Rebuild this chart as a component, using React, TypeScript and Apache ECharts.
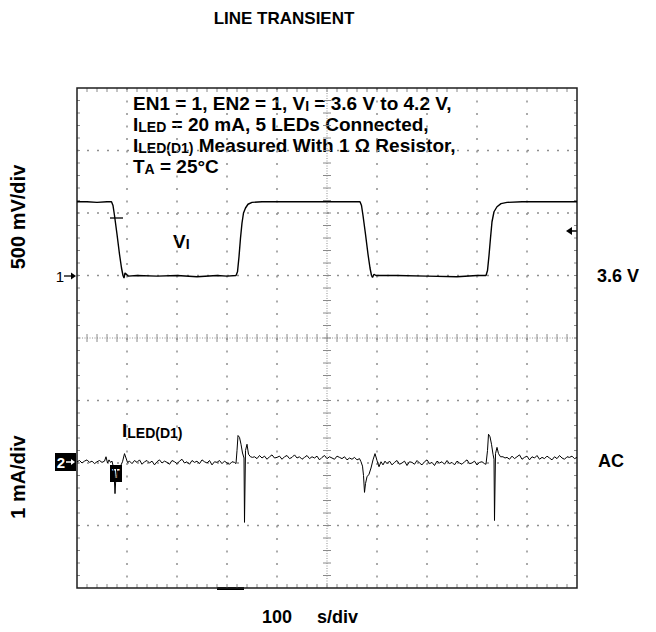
import React, { useEffect, useRef } from "react";
import * as echarts from "echarts";

const FONT = "'Liberation Sans', Arial, Helvetica, sans-serif";

// Oscilloscope scales
const TIME_TICKS_US = [0, 100, 200, 300, 400, 500, 600, 700, 800, 900, 1000]; // 100 µs/div
const DIV_TICKS = [-4, -3, -2, -1, 0, 1, 2, 3, 4]; // 8 vertical divisions
const VOLT_RANGE = [1.1, 5.1]; // 500 mV/div, 3.6 V reference at +1 div
const CURRENT_RANGE_MA = [-2, 6]; // 1 mA/div, AC zero at -2 div

// V_I trace [time µs, volts]
const VI_TRACE: [number, number][] = [
  [0, 4.19], [20, 4.19], [40, 4.185], [60, 4.19], [69, 4.19], [72, 4.16], [75, 4.08], [80, 3.93],
  [85, 3.77], [89, 3.66], [92, 3.6], [94, 3.58], [96, 3.62], [99, 3.61], [102, 3.595], [120, 3.6],
  [160, 3.595], [200, 3.6], [240, 3.59], [280, 3.6], [300, 3.595], [318, 3.6],
  [321, 3.63], [324, 3.75], [327, 3.9], [330, 4.02], [333, 4.1], [337, 4.14], [342, 4.17], [350, 4.185],
  [370, 4.19], [420, 4.19], [480, 4.19], [540, 4.19], [566, 4.19],
  [569, 4.16], [572, 4.08], [577, 3.93], [582, 3.77], [586, 3.66], [589, 3.6], [591, 3.585], [594, 3.61],
  [598, 3.6], [640, 3.6], [700, 3.595], [760, 3.59], [800, 3.6], [818, 3.6],
  [821, 3.64], [824, 3.76], [827, 3.9], [830, 4.03], [834, 4.11], [840, 4.15], [848, 4.175], [860, 4.185],
  [890, 4.19], [950, 4.19], [1000, 4.19],
];

// I_LED(D1) trace (AC coupled, mA): baseline records sampled every 5 µs
const ILED_STEP_US = 5;
const ILED_SEG1_START = 0;
const ILED_SEG1 = [0.02, 0.04, 0.0, 0.03, 0.05, 0.01, 0.03, -0.01, 0.02, 0.04, 0.01, 0.03];
const ILED_SEG2_START = 105;
const ILED_SEG2 = [
  0.03, -0.01, 0.04, 0.01, 0.05, -0.02, 0.02, 0.04, 0.0, 0.03,
  -0.03, 0.02, 0.05, 0.0, 0.03, 0.01, -0.02, 0.04, 0.02, -0.01,
  0.03, 0.06, 0.0, 0.02, -0.02, 0.04, 0.01, 0.03, -0.01, 0.05,
  0.02, 0.0, 0.04, -0.03, 0.02, 0.01, 0.04, -0.01, 0.03, 0.0,
  -0.02, 0.02, 0.01,
];
const ILED_SEG3_START = 355;
const ILED_SEG3 = [
  0.1, 0.07, 0.12, 0.08, 0.11, 0.06, 0.1, 0.13, 0.08, 0.09,
  0.11, 0.06, 0.1, 0.12, 0.07, 0.09, 0.13, 0.08, 0.1, 0.06,
  0.09, 0.12, 0.07, 0.1, 0.08, 0.11, 0.05, 0.09, 0.12, 0.07,
  0.1, 0.08, 0.06, 0.11, 0.09, 0.07, 0.1, 0.05, 0.08, 0.06,
  0.09, 0.05, 0.07,
];
const ILED_SEG4_START = 620;
const ILED_SEG4 = [
  -0.01, 0.03, -0.03, 0.01, 0.04, -0.02, 0.0, 0.03, -0.04, 0.02,
  0.01, -0.02, 0.04, 0.0, -0.03, 0.02, 0.05, -0.01, 0.01, -0.04,
  0.03, 0.0, 0.02, -0.02, 0.04, -0.01, 0.01, -0.03, 0.03, 0.0,
  -0.02, 0.02, 0.05, -0.01, 0.0, 0.03, -0.03, 0.01, 0.02, -0.01,
];
const ILED_SEG5_START = 860;
const ILED_SEG5 = [
  0.09, 0.06, 0.11, 0.07, 0.1, 0.13, 0.06, 0.09, 0.11, 0.05,
  0.1, 0.08, 0.12, 0.06, 0.09, 0.07, 0.11, 0.08, 0.05, 0.1,
  0.07, 0.12, 0.08, 0.06, 0.1, 0.09, 0.11, 0.07, 0.09,
];
// transients around the supply edges [time µs, mA]
const ILED_EDGE1: [number, number][] = [
  [58, 0.1], [61, 0.0], [64, 0.05], [67, 0.01], [70, 0.03], [72, -0.04], [74, -0.14], [76, -0.49],
  [78, -0.2], [80, -0.04], [83, -0.07], [87, -0.05], [91, 0.02], [95, 0.15], [98, 0.08], [101, 0.01],
];
const ILED_EDGE2: [number, number][] = [
  [318, -0.01], [320, 0.2], [322, 0.44], [325, 0.41], [328, 0.3], [331, 0.16], [334, 0.08],
  [335, -0.95], [337, 0.2], [340, 0.3], [343, 0.14], [347, 0.1], [351, 0.09],
];
const ILED_EDGE3: [number, number][] = [
  [568, 0.02], [571, -0.05], [573, -0.2], [575, -0.47], [577, -0.33], [580, -0.22], [584, -0.18],
  [588, -0.08], [592, 0.05], [596, 0.15], [600, 0.04], [604, -0.06], [608, 0.02], [612, -0.03], [616, 0.03],
];
const ILED_EDGE4: [number, number][] = [
  [818, -0.02], [821, 0.2], [823, 0.46], [826, 0.42], [829, 0.3], [832, 0.14], [834, 0.06],
  [835, -0.92], [837, 0.15], [840, 0.25], [843, 0.15], [847, 0.1], [852, 0.1], [856, 0.08],
];

function segment(start: number, values: number[]): [number, number][] {
  return values.map((v, i) => [start + i * ILED_STEP_US, v] as [number, number]);
}

const ILED_TRACE: [number, number][] = [
  ...segment(ILED_SEG1_START, ILED_SEG1),
  ...ILED_EDGE1,
  ...segment(ILED_SEG2_START, ILED_SEG2),
  ...ILED_EDGE2,
  ...segment(ILED_SEG3_START, ILED_SEG3),
  ...ILED_EDGE3,
  ...segment(ILED_SEG4_START, ILED_SEG4),
  ...ILED_EDGE4,
  ...segment(ILED_SEG5_START, ILED_SEG5),
].sort((a, b) => a[0] - b[0]);

const GRID_GREY = "#8f8f8f";
const TICK_GREY = "#8a8a8a";
const FRAME = "#1e1e1e";

function graticule(params: any, api: any) {
  const children: any[] = [];
  const c = (t: number, d: number) => api.coord([t, d]);
  const line = (a: number[], b: number[], style: any) =>
    children.push({ type: "line", shape: { x1: a[0], y1: a[1], x2: b[0], y2: b[1] }, style });
  const tMin = TIME_TICKS_US[0];
  const tMax = TIME_TICKS_US[TIME_TICKS_US.length - 1];
  const dMin = DIV_TICKS[0];
  const dMax = DIV_TICKS[DIV_TICKS.length - 1];
  const tMid = (tMin + tMax) / 2;
  // dotted major lines
  TIME_TICKS_US.forEach((t) => {
    if (t === tMin || t === tMax || t === tMid) return;
    line(c(t, dMax), c(t, dMin), { stroke: GRID_GREY, lineWidth: 1.5, lineDash: [2, 10.5] });
  });
  DIV_TICKS.forEach((d) => {
    if (d === dMin || d === dMax || d === 0) return;
    line(c(tMin, d), c(tMax, d), { stroke: GRID_GREY, lineWidth: 1.5, lineDash: [2, 8] });
  });
  // center cross, dense dotted with minor ticks
  line(c(tMid, dMax), c(tMid, dMin), { stroke: GRID_GREY, lineWidth: 1, lineDash: [1, 1.5] });
  line(c(tMin, 0), c(tMax, 0), { stroke: GRID_GREY, lineWidth: 1, lineDash: [1, 1.5] });
  const minorT = (TIME_TICKS_US[1] - TIME_TICKS_US[0]) / 5;
  const minorD = (DIV_TICKS[1] - DIV_TICKS[0]) / 5;
  for (let t = tMin + minorT; t < tMax - 1e-6; t += minorT) {
    const p = c(t, 0);
    line([p[0], p[1] - 4], [p[0], p[1] + 4], { stroke: TICK_GREY, lineWidth: 1 });
    const pt = c(t, dMax);
    const pb = c(t, dMin);
    line([pt[0], pt[1]], [pt[0], pt[1] + 4], { stroke: TICK_GREY, lineWidth: 1 });
    line([pb[0], pb[1]], [pb[0], pb[1] - 4], { stroke: TICK_GREY, lineWidth: 1 });
  }
  for (let d = dMin + minorD; d < dMax - 1e-6; d += minorD) {
    const p = c(tMid, d);
    line([p[0] - 4, p[1]], [p[0] + 4, p[1]], { stroke: TICK_GREY, lineWidth: 1 });
    const pl = c(tMin, d);
    const pr = c(tMax, d);
    line([pl[0], pl[1]], [pl[0] + 3, pl[1]], { stroke: TICK_GREY, lineWidth: 1 });
    line([pr[0], pr[1]], [pr[0] - 3, pr[1]], { stroke: TICK_GREY, lineWidth: 1 });
  }
  // frame
  const tl = c(tMin, dMax);
  const br = c(tMax, dMin);
  children.push({
    type: "rect",
    shape: { x: tl[0], y: tl[1], width: br[0] - tl[0], height: br[1] - tl[1] },
    style: { fill: "none", stroke: FRAME, lineWidth: 1.5 },
  });
  return { type: "group", children };
}

const bold = (size: number) => ({ fontFamily: FONT, fontWeight: "bold" as const, fontSize: size, fill: "#000" });
const RICH = {
  b: { fontFamily: FONT, fontWeight: "bold", fontSize: 19, lineHeight: 20, color: "#000" },
  s: { fontFamily: FONT, fontWeight: "bold", fontSize: 14, lineHeight: 8, verticalAlign: "bottom", color: "#000" },
};
const richText = (x: number, y: number, text: string) => ({
  type: "text",
  x,
  y,
  style: { text, rich: RICH, align: "left", verticalAlign: "middle", fill: "#000" },
});

const option: any = {
  animation: false,
  backgroundColor: "#fff",
  grid: { left: 77, top: 88, width: 500, height: 500, containLabel: false },
  xAxis: [{ type: "value", min: TIME_TICKS_US[0], max: TIME_TICKS_US[TIME_TICKS_US.length - 1], interval: 100, show: false }],
  yAxis: [
    { type: "value", min: DIV_TICKS[0], max: DIV_TICKS[DIV_TICKS.length - 1], interval: 1, show: false },
    { type: "value", min: VOLT_RANGE[0], max: VOLT_RANGE[1], show: false },
    { type: "value", min: CURRENT_RANGE_MA[0], max: CURRENT_RANGE_MA[1], show: false },
  ],
  series: [
    { type: "custom", xAxisIndex: 0, yAxisIndex: 0, silent: true, z: 1, data: [[0, 0]], renderItem: graticule },
    {
      name: "VI", type: "line", xAxisIndex: 0, yAxisIndex: 1, data: VI_TRACE, showSymbol: false, z: 3,
      lineStyle: { color: "#000", width: 1.4 }, silent: true,
    },
    {
      name: "ILED", type: "line", xAxisIndex: 0, yAxisIndex: 2, data: ILED_TRACE, showSymbol: false, z: 3,
      lineStyle: { color: "#000", width: 1 }, silent: true,
    },
  ],
  graphic: [
    { type: "text", x: 284, y: 18, style: { ...bold(17), text: "LINE TRANSIENT", align: "center", verticalAlign: "middle" } },
    { type: "text", x: 18, y: 217, rotation: Math.PI / 2, style: { ...bold(20), text: "500 mV/div", align: "center", verticalAlign: "middle" } },
    { type: "text", x: 18, y: 477, rotation: Math.PI / 2, style: { ...bold(20), text: "1 mA/div", align: "center", verticalAlign: "middle" } },
    { type: "text", x: 597, y: 276, style: { ...bold(18), text: "3.6 V", align: "left", verticalAlign: "middle" } },
    { type: "text", x: 598, y: 461, style: { ...bold(18), text: "AC", align: "left", verticalAlign: "middle" } },
    { type: "text", x: 262, y: 617, style: { ...bold(18), text: "100", align: "left", verticalAlign: "middle" } },
    { type: "text", x: 317, y: 617, style: { ...bold(18), text: "s/div", align: "left", verticalAlign: "middle" } },
    richText(173, 241, "{b|V}{s|I}"),
    richText(122, 430, "{b|I}{s|LED(D1)}"),
    richText(133, 103, "{b|EN1 = 1, EN2 = 1, V}{s|I}{b| = 3.6 V to 4.2 V,}"),
    richText(133, 124, "{b|I}{s|LED}{b| = 20 mA, 5 LEDs Connected,}"),
    richText(133, 145, "{b|I}{s|LED(D1)}{b| Measured With 1 Ω Resistor,}"),
    richText(133, 166, "{b|T}{s|A}{b| = 25°C}"),
    // channel 1 marker
    { type: "text", x: 60, y: 276, style: { fontFamily: FONT, fontSize: 15, text: "1", fill: "#000", align: "center", verticalAlign: "middle" } },
    { type: "line", shape: { x1: 64, y1: 276, x2: 73, y2: 276 }, style: { stroke: "#000", lineWidth: 1.3 } },
    { type: "polygon", shape: { points: [[71, 272.5], [76, 276], [71, 279.5]] }, style: { fill: "#000" } },
    // channel 2 marker
    { type: "rect", shape: { x: 55, y: 453, width: 21, height: 18 }, style: { fill: "#000" } },
    { type: "text", x: 61, y: 462, style: { fontFamily: FONT, fontWeight: "bold", fontSize: 15, text: "2", fill: "#fff", align: "center", verticalAlign: "middle" } },
    { type: "line", shape: { x1: 66, y1: 462, x2: 72, y2: 462 }, style: { stroke: "#fff", lineWidth: 1.5 } },
    { type: "polygon", shape: { points: [[71, 459], [75, 462], [71, 465]] }, style: { fill: "#fff" } },
    // trigger markers
    { type: "rect", shape: { x: 110, y: 465, width: 12, height: 17 }, style: { fill: "#000" } },
    { type: "text", x: 116, y: 474, style: { fontFamily: FONT, fontWeight: "bold", fontSize: 12, text: "T", fill: "#fff", align: "center", verticalAlign: "middle" } },
    { type: "line", shape: { x1: 110, y1: 218, x2: 123, y2: 218 }, style: { stroke: "#000", lineWidth: 1.3 } },
    { type: "line", shape: { x1: 571, y1: 231, x2: 577, y2: 231 }, style: { stroke: "#000", lineWidth: 1.5 } },
    { type: "polygon", shape: { points: [[566, 231], [572, 227], [572, 235]] }, style: { fill: "#000" } },
    { type: "rect", shape: { x: 217, y: 587, width: 27, height: 3 }, style: { fill: "#000" } },
  ],
};

export default function App() {
  const ref = useRef<HTMLDivElement>(null);
  useEffect(() => {
    document.body.style.margin = "0";
    const chart = echarts.init(ref.current!, undefined, { renderer: "svg" });
    chart.setOption(option);
    return () => chart.dispose();
  }, []);
  return (
    <div
      ref={ref}
      style={{ width: 656, height: 632, position: "absolute", left: 0, top: 0, background: "#fff" }}
    />
  );
}
